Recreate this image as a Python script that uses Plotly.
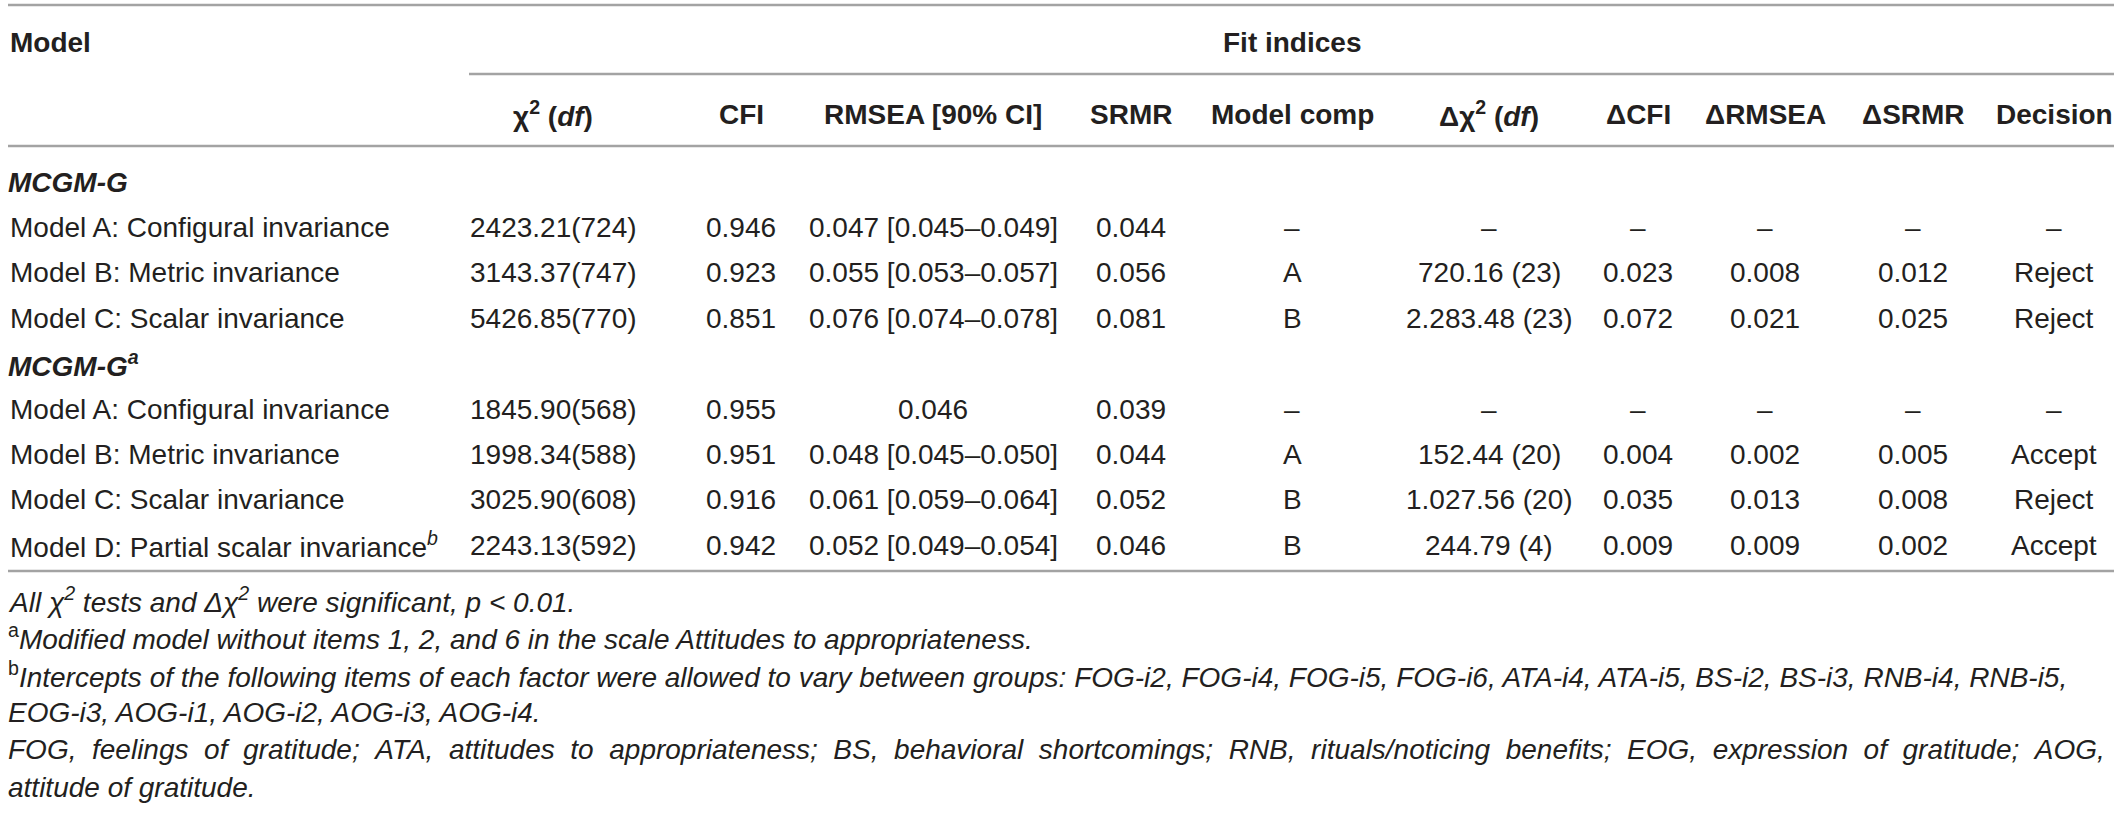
import plotly.graph_objects as go

# table content
group_labels = ["MCGM-G", "MCGM-G<sup>a</sup>"]
group_sizes = [3, 4]  # number of model rows under each group label

models = [
    "Model A: Configural invariance",
    "Model B: Metric invariance",
    "Model C: Scalar invariance",
    "Model A: Configural invariance",
    "Model B: Metric invariance",
    "Model C: Scalar invariance",
    "Model D: Partial scalar invariance<sup><i>b</i></sup>",
]
chi2_df = ["2423.21(724)", "3143.37(747)", "5426.85(770)",
           "1845.90(568)", "1998.34(588)", "3025.90(608)", "2243.13(592)"]
cfi = ["0.946", "0.923", "0.851", "0.955", "0.951", "0.916", "0.942"]
rmsea = ["0.047 [0.045–0.049]", "0.055 [0.053–0.057]", "0.076 [0.074–0.078]",
         "0.046", "0.048 [0.045–0.050]", "0.061 [0.059–0.064]", "0.052 [0.049–0.054]"]
srmr = ["0.044", "0.056", "0.081", "0.039", "0.044", "0.052", "0.046"]
model_comp = ["–", "A", "B", "–", "A", "B", "B"]
d_chi2 = ["–", "720.16 (23)", "2.283.48 (23)", "–", "152.44 (20)", "1.027.56 (20)", "244.79 (4)"]
d_cfi = ["–", "0.023", "0.072", "–", "0.004", "0.035", "0.009"]
d_rmsea = ["–", "0.008", "0.021", "–", "0.002", "0.013", "0.009"]
d_srmr = ["–", "0.012", "0.025", "–", "0.005", "0.008", "0.002"]
decision = ["–", "Reject", "Reject", "–", "Accept", "Reject", "Accept"]

col_headers = ["χ<sup>2</sup> (<i>df</i>)", "CFI", "RMSEA [90% CI]", "SRMR", "Model comp",
               "Δχ<sup>2</sup> (<i>df</i>)", "ΔCFI", "ΔRMSEA", "ΔSRMR", "Decision"]

footnotes = [
    "All χ<sup>2</sup> tests and Δχ<sup>2</sup> were significant, p < 0.01.",
    "Modified model without items 1, 2, and 6 in the scale Attitudes to appropriateness.",
    "Intercepts of the following items of each factor were allowed to vary between groups: "
    "FOG-i2, FOG-i4, FOG-i5, FOG-i6, ATA-i4, ATA-i5, BS-i2, BS-i3, RNB-i4, RNB-i5,",
    "EOG-i3, AOG-i1, AOG-i2, AOG-i3, AOG-i4.",
    "FOG, feelings of gratitude; ATA, attitudes to appropriateness; BS, behavioral shortcomings; "
    "RNB, rituals/noticing benefits; EOG, expression of gratitude; AOG,",
    "attitude of gratitude.",
]
footnote_marks = ["", "a", "b", "", "", ""]
footnote_justified = [False, False, False, False, True, False]

W, H = 2121, 822
FONT = "Liberation Sans, Arial, Helvetica, sans-serif"
INK = "#231f20"
RULE = "#a3a3a3"
FS = 28

col_x = [553, 741, 933, 1131, 1292, 1489, 1638, 1765, 1913, 2054]
left_x = 8
right_x = 2114
fit_x0 = 469

row_top = 182
row_h = 45.4
foot_top = 600
foot_h = 37.4

value_cols = [chi2_df, cfi, rmsea, srmr, model_comp, d_chi2, d_cfi, d_rmsea, d_srmr, decision]

annotations = []


def add_text(x, y, text, anchor="center", size=FS):
    annotations.append(dict(
        x=x, y=y, xref="x", yref="y", text=text, showarrow=False,
        xanchor=anchor, yanchor="middle",
        font=dict(family=FONT, size=size, color=INK),
    ))


# header rows
add_text(left_x, 42, "<b>Model</b>", "left")
add_text((fit_x0 + right_x) / 2, 42, "<b>Fit indices</b>")
for cx, h in zip(col_x, col_headers):
    add_text(cx, 114, "<b>" + h + "</b>")

# body rows: group labels interleaved with model rows
row = 0
data_i = 0
for label, n in zip(group_labels, group_sizes):
    add_text(left_x - 2, row_top + row * row_h, "<b><i>" + label + "</i></b>", "left")
    row += 1
    for _ in range(n):
        y = row_top + row * row_h
        add_text(left_x, y, models[data_i], "left")
        for cx, col in zip(col_x, value_cols):
            add_text(cx, y, col[data_i])
        data_i += 1
        row += 1

# footnotes (the justified line gets widened word gaps like the printed table)
for k, (f, mark, just) in enumerate(zip(footnotes, footnote_marks, footnote_justified)):
    body = " \u00a0".join(f.split(" ")) if just else f
    txt = ("<sup>" + mark + "</sup>" if mark else "") + "<i>" + body + "</i>"
    add_text(left_x - 2, foot_top + k * foot_h, txt, "left")

rules = [
    dict(x0=left_x, x1=right_x, y=5),
    dict(x0=fit_x0, x1=right_x, y=74),
    dict(x0=left_x, x1=right_x, y=146),
    dict(x0=left_x, x1=right_x, y=571),
]
shapes = [dict(type="line", xref="x", yref="y", x0=r["x0"], x1=r["x1"], y0=r["y"], y1=r["y"],
               line=dict(color=RULE, width=2.5)) for r in rules]

fig = go.Figure()
fig.update_layout(
    width=W, height=H,
    margin=dict(l=0, r=0, t=0, b=0),
    paper_bgcolor="white", plot_bgcolor="white",
    xaxis=dict(range=[0, W], visible=False, fixedrange=True),
    yaxis=dict(range=[H, 0], visible=False, fixedrange=True),
    annotations=annotations,
    shapes=shapes,
    showlegend=False,
)

fig.write_html("out.html", config={"displayModeBar": False},
               post_script="document.body.style.margin='0px';")
